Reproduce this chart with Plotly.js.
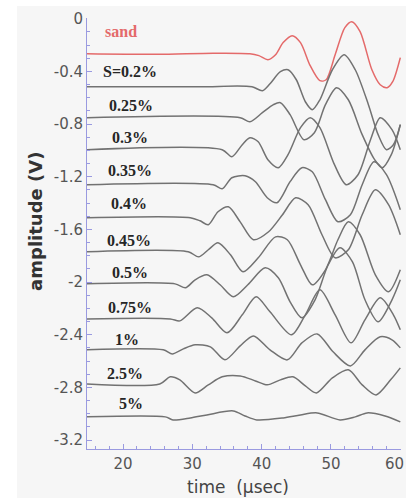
<!DOCTYPE html>
<html>
<head>
<meta charset="utf-8">
<script src="https://cdn.plot.ly/plotly-3.0.1.min.js"></script>
<style>
  html, body { margin: 0; padding: 0; background: #ffffff; overflow: hidden; }
  #chart { width: 406px; height: 498px; }
</style>
</head>
<body>
<div id="chart"></div>
<script>
// Received waveforms for dry sand and increasing salinity, offset vertically.
const seriesNames = ["sand", "S=0.2%", "0.25%", "0.3%", "0.35%", "0.4%", "0.45%", "0.5%", "0.75%", "1%", "2.5%", "5%"];

const tSand = [14.8, 25, 33, 38.3, 39.6, 40.9, 42.0, 43.1, 44.4, 45.6, 47.0, 48.4, 49.3, 50.6, 52.0, 53.0, 54.2, 55.9, 57.1, 58.1, 58.9, 60.0];
const vSand = [-0.266, -0.270, -0.262, -0.266, -0.281, -0.312, -0.274, -0.182, -0.129, -0.182, -0.357, -0.471, -0.464, -0.274, -0.068, -0.023, -0.099, -0.388, -0.502, -0.524, -0.479, -0.296];

const tS020 = [14.8, 31.1, 38.6, 40.1, 41.2, 42.7, 43.8, 45.0, 46.3, 47.3, 48.4, 50.2, 51.9, 53.5, 55.4, 56.8, 58.0, 59.0, 60.0];
const vS020 = [-0.517, -0.517, -0.517, -0.547, -0.494, -0.403, -0.388, -0.464, -0.631, -0.691, -0.616, -0.388, -0.274, -0.388, -0.653, -0.881, -0.995, -0.957, -0.805];

const tS025 = [14.8, 36.9, 38.3, 40.1, 41.7, 42.7, 44.1, 46.1, 47.6, 49.2, 50.8, 52.5, 54.5, 56.3, 57.4, 58.7, 60.0];
const vS025 = [-0.752, -0.752, -0.783, -0.714, -0.653, -0.638, -0.729, -0.919, -0.866, -0.653, -0.524, -0.616, -0.881, -1.071, -1.132, -1.033, -0.805];

const tS030 = [14.8, 34.3, 35.7, 37.2, 38.3, 39.5, 40.9, 42.4, 43.8, 45.6, 47.0, 48.4, 50.5, 52.2, 53.9, 55.7, 57.1, 58.8, 60.0];
const vS030 = [-0.995, -0.995, -1.049, -0.957, -0.904, -0.935, -1.071, -1.132, -1.033, -0.828, -0.752, -0.828, -1.109, -1.261, -1.185, -0.919, -0.752, -0.843, -0.995];

const tS035 = [14.8, 33.0, 34.3, 35.7, 37.6, 39.1, 40.8, 42.2, 44.1, 45.8, 47.3, 49.2, 51.0, 52.8, 54.5, 56.2, 58.0, 60.0];
const vS035 = [-1.261, -1.261, -1.292, -1.208, -1.193, -1.239, -1.360, -1.398, -1.238, -1.132, -1.163, -1.375, -1.542, -1.489, -1.261, -1.087, -1.185, -1.451];

const tS040 = [14.8, 29.7, 31.1, 32.3, 33.7, 35.2, 36.9, 38.8, 41.0, 43.0, 44.9, 46.7, 48.7, 50.6, 52.5, 54.5, 56.4, 58.3, 60.0];
const vS040 = [-1.512, -1.512, -1.535, -1.565, -1.466, -1.429, -1.543, -1.679, -1.618, -1.489, -1.360, -1.413, -1.641, -1.816, -1.755, -1.489, -1.300, -1.413, -1.641];

const tS045 = [14.8, 29.4, 30.9, 32.3, 33.7, 35.5, 37.3, 39.5, 42.0, 43.7, 45.6, 47.3, 49.2, 51.0, 52.5, 54.2, 56.4, 58.3, 60.0];
const vS045 = [-1.770, -1.770, -1.809, -1.755, -1.702, -1.793, -1.922, -1.816, -1.657, -1.679, -1.869, -2.021, -1.907, -1.679, -1.543, -1.641, -1.945, -2.074, -1.907];

const tS050 = [14.8, 27.5, 29.0, 30.4, 32.1, 34.0, 35.9, 38.0, 40.5, 42.4, 44.1, 45.8, 47.7, 49.6, 51.3, 53.1, 54.9, 56.8, 58.8, 60.0];
const vS050 = [-2.014, -2.014, -2.044, -1.983, -1.945, -2.021, -2.112, -2.021, -1.892, -1.968, -2.150, -2.272, -2.135, -1.869, -1.740, -1.847, -2.135, -2.302, -2.135, -1.983];

const tS075 = [14.8, 26.8, 28.2, 30.7, 32.8, 35.0, 37.2, 39.2, 41.2, 44.3, 46.3, 48.4, 50.6, 52.9, 54.9, 57.1, 59.0, 60.0];
const vS075 = [-2.280, -2.280, -2.295, -2.196, -2.272, -2.386, -2.249, -2.112, -2.226, -2.401, -2.249, -2.059, -2.249, -2.462, -2.287, -2.120, -2.249, -2.363];

const tS100 = [14.8, 25.8, 27.1, 28.7, 30.4, 32.6, 34.7, 36.9, 38.8, 41.2, 43.7, 45.8, 48.0, 50.3, 52.8, 54.9, 57.1, 58.8, 60.0];
const vS100 = [-2.515, -2.515, -2.546, -2.508, -2.477, -2.492, -2.591, -2.485, -2.409, -2.515, -2.591, -2.462, -2.394, -2.530, -2.637, -2.515, -2.416, -2.439, -2.500];

const tS250 = [14.8, 25.3, 26.8, 28.2, 30.4, 32.3, 34.3, 36.9, 39.1, 40.8, 42.7, 44.5, 46.3, 47.9, 50.2, 52.5, 54.5, 56.5, 58.6, 60.0];
const vS250 = [-2.774, -2.774, -2.720, -2.743, -2.842, -2.781, -2.720, -2.713, -2.751, -2.781, -2.743, -2.720, -2.789, -2.842, -2.728, -2.667, -2.781, -2.857, -2.743, -2.652];

const tS500 = [14.8, 26.1, 27.2, 29.7, 32.1, 35.9, 37.6, 39.3, 43.1, 45.6, 48.0, 51.3, 53.5, 55.2, 57.8, 60.0];
const vS500 = [-3.024, -3.024, -3.047, -3.032, -3.009, -2.979, -3.017, -3.047, -3.032, -3.009, -2.994, -3.047, -3.024, -2.994, -3.017, -3.062];

const timeSets = [tSand, tS020, tS025, tS030, tS035, tS040, tS045, tS050, tS075, tS100, tS250, tS500];
const ampSets  = [vSand, vS020, vS025, vS030, vS035, vS040, vS045, vS050, vS075, vS100, vS250, vS500];

// Label anchor positions (time, amplitude) for each curve's name.
const labelT = [19.7, 21.0, 21.2, 21.0, 21.0, 20.8, 20.8, 21.0, 21.0, 20.6, 20.3, 21.2];
const labelV = [-0.099, -0.403, -0.661, -0.904, -1.155, -1.406, -1.687, -1.930, -2.196, -2.439, -2.698, -2.926];

const yTickVals = [0, -0.4, -0.8, -1.2, -1.6, -2, -2.4, -2.8, -3.2];
const yTickText = ["0", "-0.4", "-0.8", "-1.2", "-1.6", "-2", "-2.4", "-2.8", "-3.2"];
// The last time tick sits on the right border, so its label is drawn separately
// and nudged left to stay on the page.
const xTickVals = [20, 30, 40, 50, 60];
const xTickText = ["20", "30", "40", "50", ""];
const xEdgeTick = 60;

const axisBlue = "#9a9ae0";
const sandRed = "#e46a6a";
const traceGrey = "#727272";
const tickFont = { family: "DejaVu Sans, sans-serif", size: 15, color: "#555555" };

const traces = seriesNames.map((name, i) => ({
  type: "scatter",
  mode: "lines",
  name: name,
  x: timeSets[i],
  y: ampSets[i],
  line: { color: i === 0 ? sandRed : traceGrey, width: 1.5, shape: "spline", smoothing: 0.8 },
  hoverinfo: "skip"
}));

const annotations = seriesNames.map((name, i) => ({
  x: labelT[i], y: labelV[i], xref: "x", yref: "y",
  text: "<b>" + name + "</b>",
  showarrow: false,
  xanchor: "center", yanchor: "middle",
  font: { family: "Liberation Serif, Times New Roman, serif", size: 16, color: i === 0 ? sandRed : "#262626" }
}));

// Edge tick label for the final time tick.
annotations.push({
  x: xEdgeTick, xref: "x", y: 0, yref: "paper",
  text: String(xEdgeTick), showarrow: false, borderpad: 0,
  xanchor: "right", yanchor: "middle", xshift: 5, yshift: -15,
  font: tickFont
});

// Axis titles placed as free text.
annotations.push({
  x: -0.166, y: 0.529, xref: "paper", yref: "paper",
  text: "<b>amplitude (V)</b>", textangle: -90, showarrow: false,
  xanchor: "center", yanchor: "middle",
  font: { family: "DejaVu Sans, sans-serif", size: 18, color: "#333333" }
});
annotations.push({
  x: 0.481, y: -0.0882, xref: "paper", yref: "paper",
  text: "time\u00a0 (\u00b5sec)", showarrow: false, borderpad: 0,
  xanchor: "center", yanchor: "middle",
  font: { family: "DejaVu Sans, sans-serif", size: 17, color: "#444444" }
});

const layout = {
  width: 406, height: 498,
  margin: { l: 87, r: 5, t: 18, b: 49, pad: 0 },
  paper_bgcolor: "#ffffff",
  plot_bgcolor: "rgba(0,0,0,0)",
  showlegend: false,
  shapes: [{
    type: "rect", xref: "paper", yref: "paper", layer: "below",
    x0: -0.223, x1: 1.02, y0: -0.12, y1: 1.028,
    fillcolor: "#f6f6f6", line: { width: 0 }
  }],
  xaxis: {
    range: [14.8, 60.1],
    showline: true, linecolor: axisBlue, linewidth: 1,
    showgrid: false, zeroline: false,
    ticks: "inside", ticklen: 5, tickwidth: 1, tickcolor: axisBlue,
    tickvals: xTickVals, ticktext: xTickText,
    ticklabelstandoff: 1,
    minor: { ticks: "inside", ticklen: 3, dtick: 2, tick0: 0, tickcolor: axisBlue, showgrid: false },
    tickfont: tickFont
  },
  yaxis: {
    range: [-3.268, 0.005],
    showline: true, linecolor: axisBlue, linewidth: 1,
    showgrid: false, zeroline: false,
    ticks: "inside", ticklen: 5, tickwidth: 1, tickcolor: axisBlue,
    tickvals: yTickVals, ticktext: yTickText,
    minor: { ticks: "inside", ticklen: 3, dtick: 0.1, tick0: 0, tickcolor: axisBlue, showgrid: false },
    tickfont: tickFont
  },
  annotations: annotations
};

Plotly.newPlot("chart", traces, layout, { displayModeBar: false, staticPlot: true });
</script>
</body>
</html>
